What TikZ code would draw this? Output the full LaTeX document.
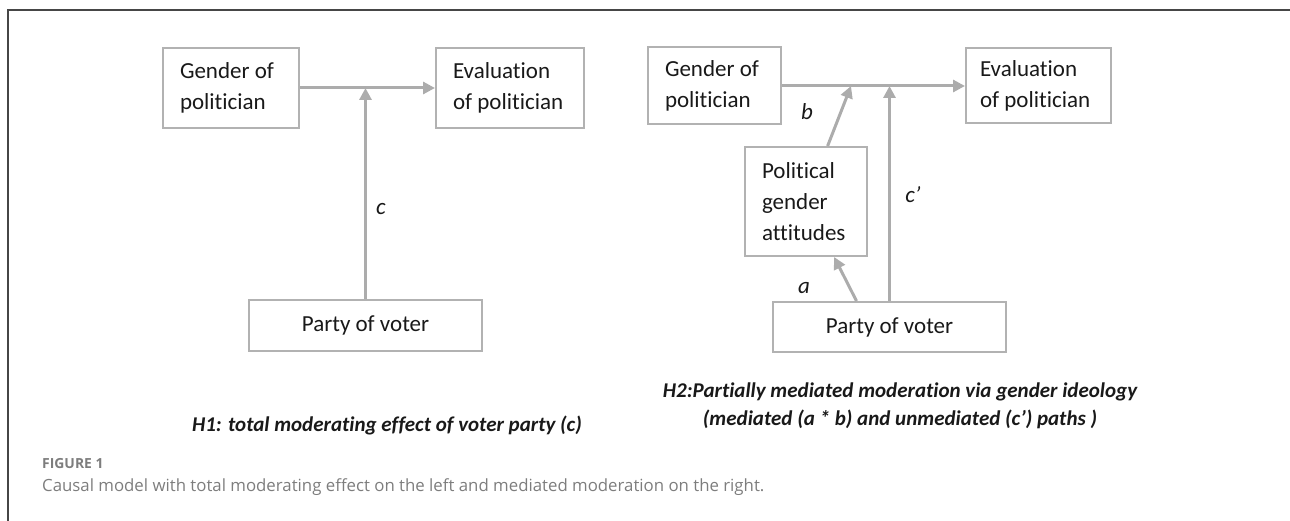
\documentclass[tikz,border=0pt]{standalone}
\usepackage{fontspec}
\setmainfont{Carlito}[Ligatures={NoCommon}]
\newfontfamily\piefont{Open Sans}
\usepackage{xcolor}
\usepackage{tikz}
\usetikzlibrary{arrows.meta}
\definecolor{GrisCaja}{RGB}{178,178,178}
\definecolor{GrisFlecha}{RGB}{172,172,172}
\definecolor{GrisMarco}{RGB}{70,70,70}
\definecolor{GrisPie}{RGB}{125,125,125}
\definecolor{NegroTexto}{RGB}{25,25,25}

\begin{document}
\begin{tikzpicture}[x=1pt,y=-1pt,>={Triangle[length=12pt,width=12pt]},
  caja/.style={draw=GrisCaja,line width=2pt,text=NegroTexto,inner xsep=17pt,inner ysep=0pt,
    align=flush left,font=\fontsize{23}{31}\selectfont},
  flecha/.style={->,draw=GrisFlecha,line width=3pt},
  etiqueta/.style={text=NegroTexto,font=\itshape\fontsize{23}{28}\selectfont},
  hipotesis/.style={text=NegroTexto,align=center,font=\bfseries\itshape\fontsize{21}{28}\selectfont}]
  \useasboundingbox (0,0) rectangle (1290,521);
  \draw[GrisMarco,line width=1.5pt] (8,521) -- (8,10) -- (1290,10);

  % H1
  \node[caja,text width=102pt,minimum height=80pt] (gen1) at (231,88) {Gender of\\politician};
  \node[caja,text width=114pt,minimum height=80pt] (ev1) at (510,88) {Evaluation\\of politician};
  \node[caja,align=center,minimum width=233pt,minimum height=51pt] (party1) at (365.5,325.5) {Party of voter};
  \coordinate (m1) at (365.5,88);
  \draw[flecha] (gen1) -- (ev1);
  \draw[flecha] (party1) -- (m1);
  \node[etiqueta] (c1) at (381,209) {c};

  % H2
  \node[caja,text width=99pt,minimum height=77pt] (gen2) at (714.5,86) {Gender of\\politician};
  \node[caja,text width=117pt,inner xsep=14pt,minimum height=75pt] (ev2) at (1038.5,86) {Evaluation\\of politician};
  \node[caja,text width=88pt,minimum height=109pt] (pga) at (806,201.5) {Political\\gender\\attitudes};
  \node[caja,align=center,minimum width=233pt,minimum height=50pt] (party2) at (889.5,327) {Party of voter};
  \coordinate (mb) at (851,86);
  \coordinate (mc) at (889.5,86);
  \draw[flecha] (gen2) -- (ev2);
  \draw[flecha] (pga) -- (mb);
  \draw[flecha] (party2) -- (mc);
  \draw[flecha] ([xshift=-33pt]party2.north) -- (pga);
  \node[etiqueta] (b2) at (807,112) {b};
  \node[etiqueta] (c2) at (913,195) {c’};
  \node[etiqueta] (a2) at (804,288) {a};

  \node[hipotesis] (h1) at (387,425) {H1: total moderating effect of voter party (c)};
  \node[hipotesis] (h2) at (900,406) {H2:Partially mediated moderation via gender ideology\\(mediated (a * b) and unmediated (c’) paths )};

  \node[anchor=west,inner sep=0pt,text=GrisPie,font=\piefont\bfseries\fontsize{13.9}{16}\selectfont] (fig) at (42,464) {FIGURE 1};
  \node[anchor=west,inner sep=0pt,text=GrisPie,font=\piefont\fontsize{16.8}{20}\selectfont] (pie) at (42,487) {Causal model with total moderating effect on the left and mediated moderation on the right.};
\end{tikzpicture}
\end{document}
